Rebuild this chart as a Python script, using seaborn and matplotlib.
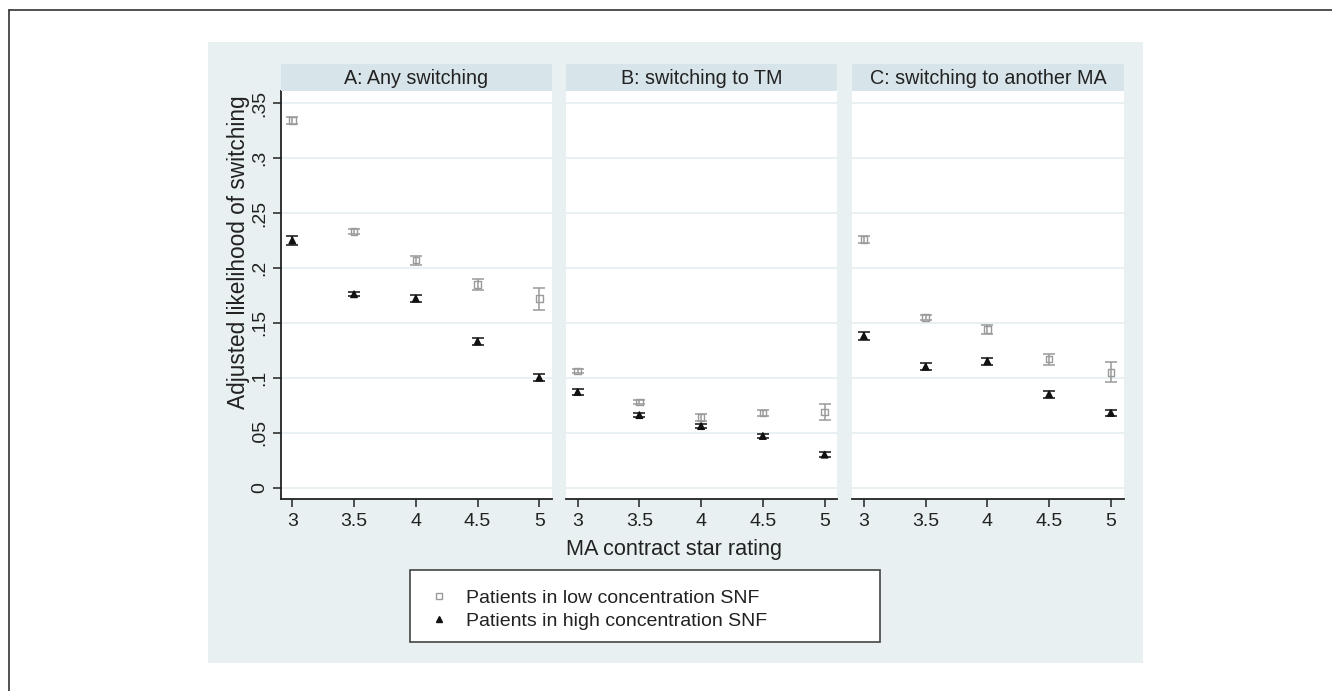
import numpy as np
import pandas as pd
import matplotlib
matplotlib.use("Agg")
import matplotlib.pyplot as plt
import seaborn as sns
from matplotlib.patches import Rectangle
from matplotlib.lines import Line2D

# ==============================
# Data
# ==============================
ratings = [3, 3.5, 4, 4.5, 5]
panels = ["A: Any switching", "B: switching to TM", "C: switching to another MA"]
groups = ["Patients in low concentration SNF", "Patients in high concentration SNF"]

low_any = [0.334, 0.233, 0.207, 0.185, 0.172]
low_any_err = [0.003, 0.002, 0.004, 0.005, 0.010]
high_any = [0.225, 0.176, 0.172, 0.133, 0.100]
high_any_err = [0.004, 0.002, 0.003, 0.003, 0.003]

low_tm = [0.106, 0.078, 0.064, 0.068, 0.069]
low_tm_err = [0.002, 0.002, 0.003, 0.003, 0.007]
high_tm = [0.087, 0.066, 0.056, 0.047, 0.030]
high_tm_err = [0.003, 0.002, 0.002, 0.002, 0.002]

low_ma = [0.226, 0.155, 0.144, 0.117, 0.105]
low_ma_err = [0.003, 0.002, 0.004, 0.005, 0.009]
high_ma = [0.138, 0.110, 0.115, 0.085, 0.068]
high_ma_err = [0.004, 0.003, 0.003, 0.003, 0.003]

yticks = [0, 0.05, 0.1, 0.15, 0.2, 0.25, 0.3, 0.35]
ytick_labels = ["0", ".05", ".1", ".15", ".2", ".25", ".3", ".35"]

series = {
    panels[0]: [(low_any, low_any_err), (high_any, high_any_err)],
    panels[1]: [(low_tm, low_tm_err), (high_tm, high_tm_err)],
    panels[2]: [(low_ma, low_ma_err), (high_ma, high_ma_err)],
}

rows = []
for p in panels:
    for g, (vals, errs) in zip(groups, series[p]):
        for r, v, e in zip(ratings, vals, errs):
            rows.append({"panel": p, "group": g, "rating": r, "value": v, "err": e})
df = pd.DataFrame(rows)

# ==============================
# Style
# ==============================
sns.set_style("white")
plt.rcParams["font.family"] = ["Liberation Sans", "DejaVu Sans"]

W, H = 1332, 691
fig = plt.figure(figsize=(W / 100, H / 100), dpi=100)
fig.patch.set_facecolor("white")

bg = "#e8f0f2"
strip_col = "#d7e4ea"
grid_col = "#e4eef1"
txt = "#222222"
colors = {groups[0]: "#9a9a9a", groups[1]: "#111111"}
markers = {groups[0]: "s", groups[1]: "^"}

# outer frame lines (top/left) and graph region background
fig.add_artist(Line2D([8.5 / W, 8.5 / W], [0, 1 - 9.5 / H], color="#333333", lw=1.2))
fig.add_artist(Line2D([8.5 / W, 1], [1 - 9.5 / H, 1 - 9.5 / H], color="#333333", lw=1.2))
fig.add_artist(Rectangle((208 / W, 1 - 663 / H), 935 / W, 621 / H,
                         facecolor=bg, edgecolor="none", zorder=0))

lefts = [280.7, 566.0, 852.3]
ax_w = 271.3
ax_top, ax_bot = 91.0, 499.3

for i, p in enumerate(panels):
    ax = fig.add_axes([lefts[i] / W, 1 - ax_bot / H, ax_w / W, (ax_bot - ax_top) / H])
    sax = fig.add_axes([lefts[i] / W, 1 - ax_top / H, ax_w / W, 27 / H])
    sax.set_facecolor(strip_col)
    sax.set_xticks([])
    sax.set_yticks([])
    for s in sax.spines.values():
        s.set_visible(False)
    sax.text(0.5, 0.45, p, ha="center", va="center", fontsize=14.2, color=txt,
             transform=sax.transAxes)

    sub = df[df["panel"] == p]
    for g in groups:
        d = sub[sub["group"] == g]
        ax.errorbar(d["rating"], d["value"], yerr=d["err"], fmt="none",
                    ecolor=colors[g], elinewidth=1.1, capsize=4, capthick=1.1, zorder=3)
    sns.scatterplot(data=sub, x="rating", y="value", hue="group", style="group",
                    palette=colors, markers=markers, hue_order=groups, style_order=groups,
                    s=22, ax=ax, legend=False, zorder=4)
    # hollow squares for the low group
    coll = ax.collections[-1]
    fcs = [(1, 1, 1, 0) if g == groups[0] else (0.07, 0.07, 0.07, 1) for g in sub["group"]]
    ecs = [colors[g] for g in sub["group"]]
    coll.set_facecolors(fcs)
    coll.set_edgecolors(ecs)
    coll.set_linewidths(1.0)

    ax.set_xlim(2.906, 5.103)
    ax.set_ylim(-0.0106, 0.361)
    ax.set_xticks(ratings)
    ax.set_xticklabels([f"{r:g}" for r in ratings], fontsize=14, color=txt)
    ax.set_yticks(yticks)
    ax.grid(axis="y", color=grid_col, lw=1.2)
    ax.grid(axis="x", visible=False)
    ax.set_axisbelow(True)
    ax.set_xlabel("")
    ax.set_ylabel("")
    for s in ["top", "right"]:
        ax.spines[s].set_visible(False)
    ax.spines["bottom"].set_color(txt)
    ax.spines["bottom"].set_linewidth(1.3)
    ax.tick_params(axis="x", direction="out", length=6, width=1.1, color=txt, pad=4, bottom=True)
    if i == 0:
        ax.spines["left"].set_color(txt)
        ax.spines["left"].set_linewidth(1.3)
        ax.set_yticklabels(ytick_labels, fontsize=14, color=txt,
                           rotation=90, va="center")
        ax.tick_params(axis="y", direction="out", length=6, width=1.1, color=txt, pad=3, left=True)
    else:
        ax.spines["left"].set_visible(False)
        ax.tick_params(axis="y", left=False, labelleft=False)

fig.text(238 / W, 1 - 252 / H, "Adjusted likelihood of switching", rotation=90,
         ha="center", va="center", fontsize=16.3, color=txt)
fig.text(674 / W, 1 - 550 / H, "MA contract star rating",
         ha="center", va="center", fontsize=15.6, color=txt)

# legend: own frame box, entries placed inside it
fig.add_artist(Rectangle((410 / W, 1 - 642 / H), 470 / W, 72 / H,
                         facecolor="white", edgecolor="#444444", lw=1.2, zorder=5))
handles = [
    Line2D([], [], ls="none", marker="s", ms=4, mfc="white", mec=colors[groups[0]], mew=1.0),
    Line2D([], [], ls="none", marker="^", ms=5, mfc=colors[groups[1]], mec=colors[groups[1]]),
]
leg = fig.legend(handles, groups, loc="center left",
                 bbox_to_anchor=(423 / W, 1 - 609.5 / H),
                 fontsize=14, frameon=False, borderpad=0,
                 labelspacing=0.3, handletextpad=0.6, handlelength=1.6,
                 borderaxespad=0)
leg.set_zorder(6)
for t in leg.get_texts():
    t.set_color(txt)

fig.savefig("out.png", dpi=100)
